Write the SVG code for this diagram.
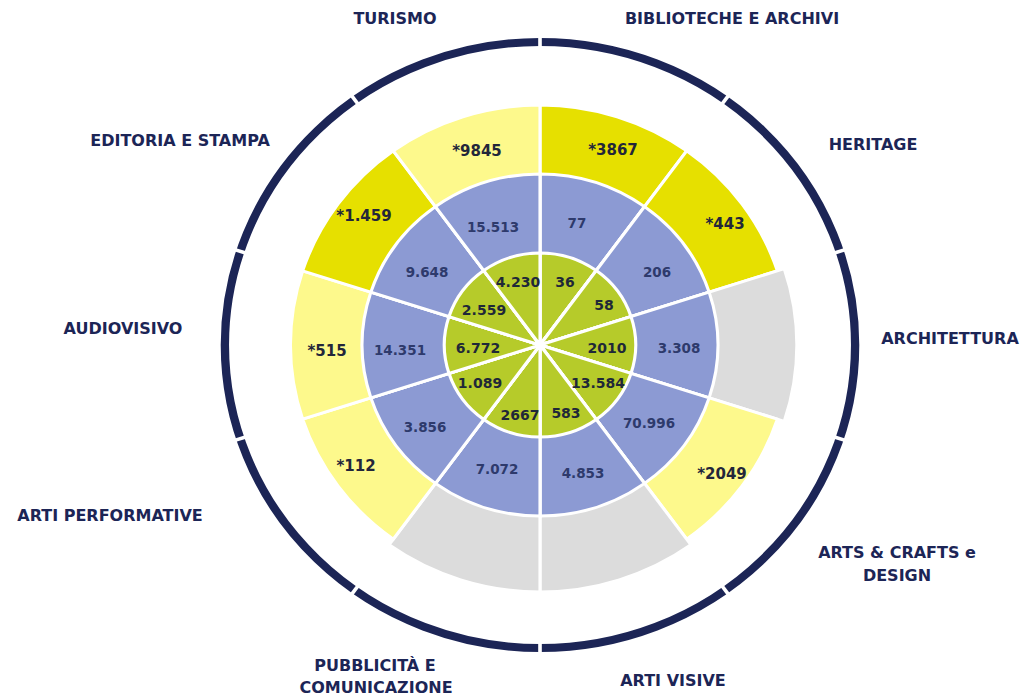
<svg xmlns="http://www.w3.org/2000/svg" width="1026" height="699" viewBox="0 0 1026 699">
<style>
.yb{fill:#e6e000}
.yl{fill:#fdf98c}
.gr{fill:#dcdcdc}
.bl{fill:#8c9ad3}
.gn{fill:#b6cb2a}
.w{stroke:#ffffff;stroke-width:3}
.gap{stroke:#ffffff;stroke-width:3.5}
.ring{fill:none;stroke:#1c2556;stroke-width:8}
text{font-family:"DejaVu Sans","Liberation Sans",sans-serif;font-weight:bold;text-anchor:middle}
.lab{font-size:16px;fill:#1c2556}
.ty{font-size:15px;fill:#23263a}
.tb{font-size:13.5px;fill:#2e3a6c}
.tg{font-size:14px;fill:#1f2838}
</style>
<rect width="1026" height="699" fill="#ffffff"/>
<g id="chart" transform="translate(540,345) scale(1.04,1)">
<circle class="ring" r="303"/>
<g id="sector-biblioteche" class="w">
<path class="yb" d="M0,0 L0,-240 A240,240 0 0 1 141.07,-194.16 Z"/>
<path class="bl" d="M0,0 L0,-171 A171,171 0 0 1 100.51,-138.34 Z"/>
<path class="gn" d="M0,0 L0,-92 A92,92 0 0 1 54.08,-74.43 Z"/>
</g>
<g id="sector-heritage" class="w">
<path class="yb" d="M0,0 L141.07,-194.16 A240,240 0 0 1 228.25,-74.16 Z"/>
<path class="bl" d="M0,0 L100.51,-138.34 A171,171 0 0 1 162.63,-52.84 Z"/>
<path class="gn" d="M0,0 L54.08,-74.43 A92,92 0 0 1 87.5,-28.43 Z"/>
</g>
<g id="sector-architettura" class="w">
<path class="gr" d="M0,0 L234.91,-76.33 A247,247 0 0 1 234.91,76.33 Z"/>
<path class="bl" d="M0,0 L162.63,-52.84 A171,171 0 0 1 162.63,52.84 Z"/>
<path class="gn" d="M0,0 L87.5,-28.43 A92,92 0 0 1 87.5,28.43 Z"/>
</g>
<g id="sector-arts-crafts" class="w">
<path class="yl" d="M0,0 L228.25,74.16 A240,240 0 0 1 141.07,194.16 Z"/>
<path class="bl" d="M0,0 L162.63,52.84 A171,171 0 0 1 100.51,138.34 Z"/>
<path class="gn" d="M0,0 L87.5,28.43 A92,92 0 0 1 54.08,74.43 Z"/>
</g>
<g id="sector-arti-visive" class="w">
<path class="gr" d="M0,0 L145.18,199.83 A247,247 0 0 1 0,247 Z"/>
<path class="bl" d="M0,0 L100.51,138.34 A171,171 0 0 1 0,171 Z"/>
<path class="gn" d="M0,0 L54.08,74.43 A92,92 0 0 1 0,92 Z"/>
</g>
<g id="sector-pubblicita" class="w">
<path class="gr" d="M0,0 L0,247 A247,247 0 0 1 -145.18,199.83 Z"/>
<path class="bl" d="M0,0 L0,171 A171,171 0 0 1 -100.51,138.34 Z"/>
<path class="gn" d="M0,0 L0,92 A92,92 0 0 1 -54.08,74.43 Z"/>
</g>
<g id="sector-arti-performative" class="w">
<path class="yl" d="M0,0 L-141.07,194.16 A240,240 0 0 1 -228.25,74.16 Z"/>
<path class="bl" d="M0,0 L-100.51,138.34 A171,171 0 0 1 -162.63,52.84 Z"/>
<path class="gn" d="M0,0 L-54.08,74.43 A92,92 0 0 1 -87.5,28.43 Z"/>
</g>
<g id="sector-audiovisivo" class="w">
<path class="yl" d="M0,0 L-228.25,74.16 A240,240 0 0 1 -228.25,-74.16 Z"/>
<path class="bl" d="M0,0 L-162.63,52.84 A171,171 0 0 1 -162.63,-52.84 Z"/>
<path class="gn" d="M0,0 L-87.5,28.43 A92,92 0 0 1 -87.5,-28.43 Z"/>
</g>
<g id="sector-editoria" class="w">
<path class="yb" d="M0,0 L-228.25,-74.16 A240,240 0 0 1 -141.07,-194.16 Z"/>
<path class="bl" d="M0,0 L-162.63,-52.84 A171,171 0 0 1 -100.51,-138.34 Z"/>
<path class="gn" d="M0,0 L-87.5,-28.43 A92,92 0 0 1 -54.08,-74.43 Z"/>
</g>
<g id="sector-turismo" class="w">
<path class="yl" d="M0,0 L-141.07,-194.16 A240,240 0 0 1 0,-240 Z"/>
<path class="bl" d="M0,0 L-100.51,-138.34 A171,171 0 0 1 0,-171 Z"/>
<path class="gn" d="M0,0 L-54.08,-74.43 A92,92 0 0 1 0,-92 Z"/>
</g>
<g id="ring-gaps" class="gap">
<line x1="0" y1="-296" x2="0" y2="-311"/>
<line x1="173.98" y1="-239.47" x2="182.8" y2="-251.6"/>
<line x1="281.51" y1="-91.47" x2="295.78" y2="-96.1"/>
<line x1="281.51" y1="91.47" x2="295.78" y2="96.1"/>
<line x1="173.98" y1="239.47" x2="182.8" y2="251.6"/>
<line x1="0" y1="296" x2="0" y2="311"/>
<line x1="-173.98" y1="239.47" x2="-182.8" y2="251.6"/>
<line x1="-281.51" y1="91.47" x2="-295.78" y2="96.1"/>
<line x1="-281.51" y1="-91.47" x2="-295.78" y2="-96.1"/>
<line x1="-173.98" y1="-239.47" x2="-182.8" y2="-251.6"/>
</g>
<circle r="5" fill="#ffffff"/>
</g>
<g id="labels">
<text class="lab" x="395" y="24">TURISMO</text>
<text class="lab" x="732" y="24">BIBLIOTECHE E ARCHIVI</text>
<text class="lab" x="873" y="150">HERITAGE</text>
<text class="lab" x="950" y="344">ARCHITETTURA</text>
<text class="lab" x="897" y="558">ARTS &amp; CRAFTS e</text>
<text class="lab" x="897" y="581">DESIGN</text>
<text class="lab" x="673" y="686">ARTI VISIVE</text>
<text class="lab" x="375" y="671">PUBBLICITÀ E</text>
<text class="lab" x="376" y="693">COMUNICAZIONE</text>
<text class="lab" x="110" y="521">ARTI PERFORMATIVE</text>
<text class="lab" x="123" y="334">AUDIOVISIVO</text>
<text class="lab" x="180" y="146">EDITORIA E STAMPA</text>
</g>
<g id="values-outer">
<text class="ty" x="613" y="155">*3867</text>
<text class="ty" x="725" y="229">*443</text>
<text class="ty" x="722" y="479">*2049</text>
<text class="ty" x="356" y="471">*112</text>
<text class="ty" x="327" y="356">*515</text>
<text class="ty" x="364" y="221">*1.459</text>
<text class="ty" x="477" y="156">*9845</text>
</g>
<g id="values-middle">
<text class="tb" x="577" y="228">77</text>
<text class="tb" x="657" y="277">206</text>
<text class="tb" x="679" y="353">3.308</text>
<text class="tb" x="649" y="428">70.996</text>
<text class="tb" x="583" y="478">4.853</text>
<text class="tb" x="497" y="474">7.072</text>
<text class="tb" x="425" y="432">3.856</text>
<text class="tb" x="400" y="355">14.351</text>
<text class="tb" x="427" y="277">9.648</text>
<text class="tb" x="493" y="232">15.513</text>
</g>
<g id="values-inner">
<text class="tg" x="565" y="287">36</text>
<text class="tg" x="604" y="310">58</text>
<text class="tg" x="607" y="353">2010</text>
<text class="tg" x="598" y="388">13.584</text>
<text class="tg" x="566" y="418">583</text>
<text class="tg" x="520" y="420">2667</text>
<text class="tg" x="480" y="388">1.089</text>
<text class="tg" x="478" y="353">6.772</text>
<text class="tg" x="484" y="315">2.559</text>
<text class="tg" x="518" y="287">4.230</text>
</g>
</svg>
